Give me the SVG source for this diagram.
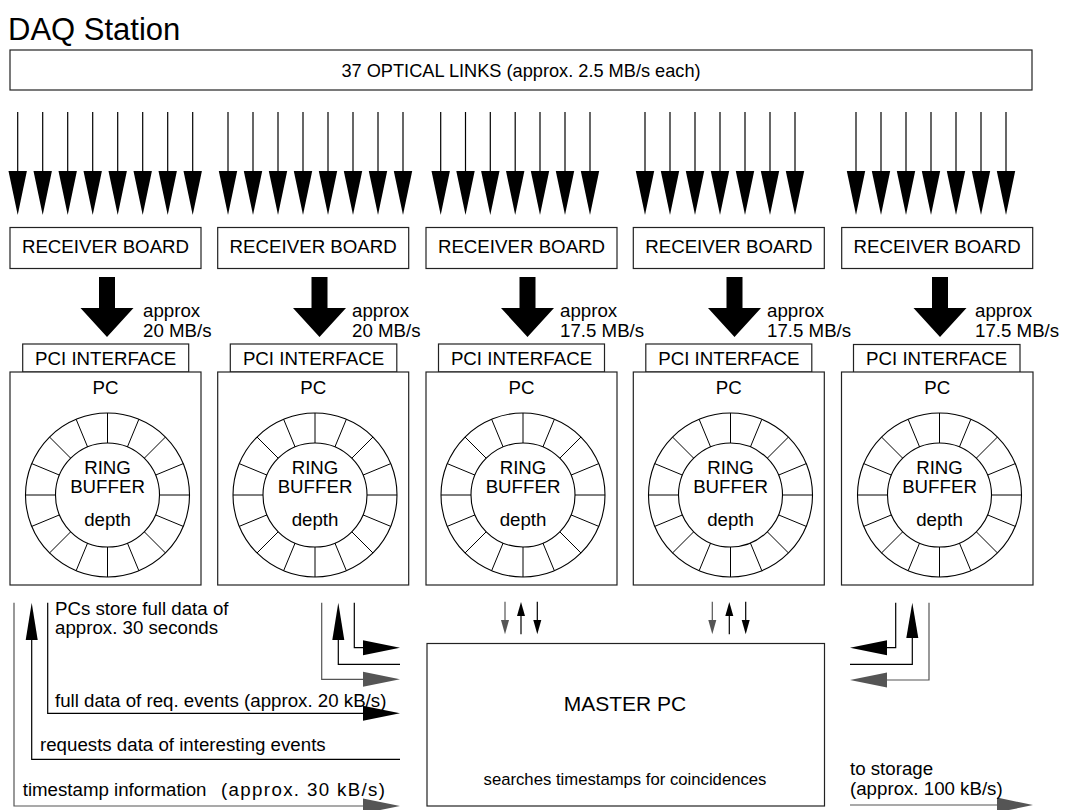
<svg xmlns="http://www.w3.org/2000/svg" xmlns:xlink="http://www.w3.org/1999/xlink" width="1065" height="810" viewBox="0 0 1065 810">
<style>
text{font-family:"Liberation Sans",Arial,sans-serif;fill:#000}
.t{font-size:18.7px}
.c{text-anchor:middle}
.box{fill:#fff;stroke:#222;stroke-width:1.2}
.ln{fill:none;stroke:#000;stroke-width:1.2}
.gl{fill:none;stroke:#555;stroke-width:1.2}
.bh{fill:#000;stroke:none}
.gh{fill:#555;stroke:none}
.rs{stroke:#000;stroke-width:1}
</style>
<defs>
<g id="inarrow">
<line x1="0" y1="112" x2="0" y2="175" class="ln"/>
<polygon points="-9.2,171 9.2,171 0,215" class="bh"/>
</g>
<g id="bigarrow">
<polygon points="-8,277 8,277 8,308 -26.5,308 0,337 26.5,308 -8,308" class="bh"/>
</g>
<g id="ring">
<circle r="82" fill="#fff" stroke="#000" stroke-width="1.1"/>
<g class="rs">
<line x1="-82" y1="0" x2="82" y2="0"/>
<line x1="-75.76" y1="-31.38" x2="75.76" y2="31.38"/>
<line x1="-57.98" y1="-57.98" x2="57.98" y2="57.98"/>
<line x1="-31.38" y1="-75.76" x2="31.38" y2="75.76"/>
<line x1="0" y1="-82" x2="0" y2="82"/>
<line x1="31.38" y1="-75.76" x2="-31.38" y2="75.76"/>
<line x1="57.98" y1="-57.98" x2="-57.98" y2="57.98"/>
<line x1="75.76" y1="-31.38" x2="-75.76" y2="31.38"/>
</g>
<circle r="52" fill="#fff" stroke="#000" stroke-width="1.1"/>
<text class="t c" x="0" y="-21">RING</text>
<text class="t c" x="0" y="-2">BUFFER</text>
<text class="t c" x="0" y="31">depth</text>
</g>
</defs>

<text x="8" y="40" style="font-size:31px">DAQ Station</text>

<g id="optical-links">
<rect x="10" y="50" width="1022" height="40" class="box"/>
<text class="c" x="521" y="77" style="font-size:18.2px">37 OPTICAL LINKS (approx. 2.5 MB/s each)</text>
</g>

<g id="input-arrows">
<use xlink:href="#inarrow" x="17.7"/><use xlink:href="#inarrow" x="42.7"/><use xlink:href="#inarrow" x="67.7"/><use xlink:href="#inarrow" x="92.7"/><use xlink:href="#inarrow" x="117.7"/><use xlink:href="#inarrow" x="142.7"/><use xlink:href="#inarrow" x="167.7"/><use xlink:href="#inarrow" x="192.7"/>
<use xlink:href="#inarrow" x="228"/><use xlink:href="#inarrow" x="253"/><use xlink:href="#inarrow" x="278"/><use xlink:href="#inarrow" x="303"/><use xlink:href="#inarrow" x="328"/><use xlink:href="#inarrow" x="353"/><use xlink:href="#inarrow" x="378"/><use xlink:href="#inarrow" x="403"/>
<use xlink:href="#inarrow" x="440.7"/><use xlink:href="#inarrow" x="465.5"/><use xlink:href="#inarrow" x="490.3"/><use xlink:href="#inarrow" x="515.2"/><use xlink:href="#inarrow" x="540"/><use xlink:href="#inarrow" x="565"/><use xlink:href="#inarrow" x="590"/>
<use xlink:href="#inarrow" x="645"/><use xlink:href="#inarrow" x="670"/><use xlink:href="#inarrow" x="695"/><use xlink:href="#inarrow" x="720"/><use xlink:href="#inarrow" x="745"/><use xlink:href="#inarrow" x="770"/><use xlink:href="#inarrow" x="795"/>
<use xlink:href="#inarrow" x="856"/><use xlink:href="#inarrow" x="881"/><use xlink:href="#inarrow" x="906"/><use xlink:href="#inarrow" x="931"/><use xlink:href="#inarrow" x="956"/><use xlink:href="#inarrow" x="981"/><use xlink:href="#inarrow" x="1006"/>
</g>

<g id="station-1">
<rect x="10" y="227.5" width="191" height="41" class="box"/>
<text class="t c" x="105.5" y="253">RECEIVER BOARD</text>
<use xlink:href="#bigarrow" x="107"/>
<text class="t" x="143" y="317">approx</text>
<text class="t" x="143" y="336.5">20 MB/s</text>
<rect x="22.7" y="344" width="166" height="28" class="box"/>
<text class="t c" x="105.7" y="365">PCI INTERFACE</text>
<rect x="10" y="372" width="191" height="213" class="box"/>
<text class="t c" x="105.5" y="394">PC</text>
<use xlink:href="#ring" x="107.5" y="495"/>
</g>

<g id="station-2">
<rect x="217.7" y="227.5" width="191" height="41" class="box"/>
<text class="t c" x="313.2" y="253">RECEIVER BOARD</text>
<use xlink:href="#bigarrow" x="319.5"/>
<text class="t" x="352" y="317">approx</text>
<text class="t" x="352" y="336.5">20 MB/s</text>
<rect x="230.3" y="344" width="166.5" height="28" class="box"/>
<text class="t c" x="313.5" y="365">PCI INTERFACE</text>
<rect x="217.7" y="372" width="191" height="213" class="box"/>
<text class="t c" x="313.2" y="394">PC</text>
<use xlink:href="#ring" x="315" y="495"/>
</g>

<g id="station-3">
<rect x="426" y="227.5" width="191" height="41" class="box"/>
<text class="t c" x="521.5" y="253">RECEIVER BOARD</text>
<use xlink:href="#bigarrow" x="527.5"/>
<text class="t" x="560" y="317">approx</text>
<text class="t" x="560" y="336.5">17.5 MB/s</text>
<rect x="438.5" y="344" width="166" height="28" class="box"/>
<text class="t c" x="521.5" y="365">PCI INTERFACE</text>
<rect x="426" y="372" width="191" height="213" class="box"/>
<text class="t c" x="521.5" y="394">PC</text>
<use xlink:href="#ring" x="523" y="495"/>
</g>

<g id="station-4">
<rect x="633.3" y="227.5" width="191" height="41" class="box"/>
<text class="t c" x="728.8" y="253">RECEIVER BOARD</text>
<use xlink:href="#bigarrow" x="734.5"/>
<text class="t" x="767" y="317">approx</text>
<text class="t" x="767" y="336.5">17.5 MB/s</text>
<rect x="645.8" y="344" width="166" height="28" class="box"/>
<text class="t c" x="728.8" y="365">PCI INTERFACE</text>
<rect x="633.3" y="372" width="191" height="213" class="box"/>
<text class="t c" x="728.8" y="394">PC</text>
<use xlink:href="#ring" x="730.5" y="495"/>
</g>

<g id="station-5">
<rect x="841.7" y="227.5" width="191" height="41" class="box"/>
<text class="t c" x="937.2" y="253">RECEIVER BOARD</text>
<use xlink:href="#bigarrow" x="940"/>
<text class="t" x="975" y="317">approx</text>
<text class="t" x="975" y="336.5">17.5 MB/s</text>
<rect x="853.5" y="344.5" width="166.5" height="28" class="box"/>
<text class="t c" x="936.7" y="365">PCI INTERFACE</text>
<rect x="841.5" y="372" width="191.5" height="213" class="box"/>
<text class="t c" x="937.2" y="394">PC</text>
<use xlink:href="#ring" x="939.5" y="495"/>
</g>

<g id="master-pc">
<rect x="427" y="643.5" width="397.5" height="162.5" class="box"/>
<text class="c" x="625" y="711" style="font-size:21px">MASTER PC</text>
<text class="c" x="625" y="785" style="font-size:16.7px">searches timestamps for coincidences</text>
</g>

<g id="connectors">
<polyline points="14,602.7 14,806 365,806" class="gl"/>
<polygon points="363,798.5 400,806 363,813.5" class="gh"/>
<polyline points="400,759.3 31.7,759.3 31.7,638" class="ln"/>
<polygon points="25.7,640 37.7,640 31.7,602.7" class="bh"/>
<polyline points="47.7,602.7 47.7,713.3 365,713.3" class="ln"/>
<polygon points="363,705.8 400,713.3 363,720.8" class="bh"/>
<polyline points="321.7,602.7 321.7,679.3 365,679.3" class="gl"/>
<polygon points="363,671.8 400,679.3 363,686.8" class="gh"/>
<polyline points="400,664.3 338.3,664.3 338.3,638" class="ln"/>
<polygon points="332.3,640 344.3,640 338.3,602.7" class="bh"/>
<polyline points="354.3,602.7 354.3,647.7 365,647.7" class="ln"/>
<polygon points="363,640.2 400,647.7 363,655.2" class="bh"/>
<line x1="505" y1="601.7" x2="505" y2="622" class="gl"/>
<polygon points="501,620 509,620 505,634.3" class="gh"/>
<line x1="521" y1="634.3" x2="521" y2="614" class="ln"/>
<polygon points="517,616 525,616 521,602" class="bh"/>
<line x1="537.3" y1="601.7" x2="537.3" y2="622" class="ln"/>
<polygon points="533.3,620 541.3,620 537.3,634.3" class="bh"/>
<line x1="712.3" y1="601.7" x2="712.3" y2="622" class="gl"/>
<polygon points="708.3,620 716.3,620 712.3,634.3" class="gh"/>
<line x1="729.3" y1="634.3" x2="729.3" y2="614" class="ln"/>
<polygon points="725.3,616 733.3,616 729.3,602" class="bh"/>
<line x1="745.7" y1="601.7" x2="745.7" y2="622" class="ln"/>
<polygon points="741.7,620 749.7,620 745.7,634.3" class="bh"/>
<polyline points="895.7,602.7 895.7,647.7 885,647.7" class="ln"/>
<polygon points="887,640.2 850,647.7 887,655.2" class="bh"/>
<polyline points="850,664.3 912.3,664.3 912.3,636" class="ln"/>
<polygon points="906.3,638 918.3,638 912.3,602.7" class="bh"/>
<polyline points="929,602.7 929,680 885,680" class="gl"/>
<polygon points="887,672.5 850,680 887,687.5" class="gh"/>
<line x1="850" y1="805" x2="1000" y2="805" class="gl"/>
<polygon points="997,797.5 1033,805 997,812.5" class="gh"/>
</g>

<g id="labels">
<text class="t" x="55" y="614.5">PCs store full data of</text>
<text class="t" x="55" y="634">approx. 30 seconds</text>
<text class="t" x="55" y="707">full data of req. events (approx. 20 kB/s)</text>
<text class="t" x="40" y="751">requests data of interesting events</text>
<text class="t" x="22.7" y="796">timestamp information <tspan x="221" textLength="164" lengthAdjust="spacing">(approx. 30 kB/s)</tspan></text>
<text class="t" x="850" y="775">to storage</text>
<text class="t" x="850" y="795">(approx. 100 kB/s)</text>
</g>
</svg>
